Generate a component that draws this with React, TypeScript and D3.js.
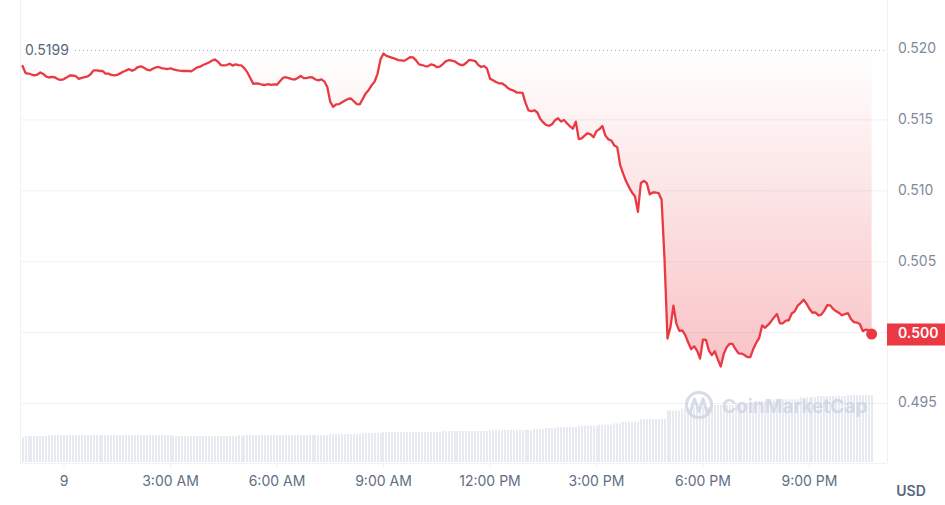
import React from "react";
import * as d3 from "d3";

const prices: number[] = [
  0.51880,0.51830,0.51827,0.51820,0.51814,0.51820,0.51835,0.51824,0.51805,0.51799,0.51803,0.51799,0.51786,0.51783,0.51788,0.51800,0.51813,0.51813,0.51808,0.51789,0.51796,0.51801,0.51807,0.51822,
  0.51849,0.51849,0.51845,0.51845,0.51827,0.51826,0.51817,0.51814,0.51817,0.51828,0.51839,0.51849,0.51858,0.51846,0.51856,0.51873,0.51878,0.51868,0.51855,0.51849,0.51861,0.51870,0.51873,0.51865,
  0.51861,0.51859,0.51864,0.51856,0.51851,0.51847,0.51845,0.51845,0.51845,0.51842,0.51856,0.51870,0.51875,0.51887,0.51896,0.51905,0.51918,0.51926,0.51911,0.51887,0.51885,0.51887,0.51896,0.51883,
  0.51892,0.51887,0.51884,0.51863,0.51835,0.51794,0.51754,0.51758,0.51755,0.51748,0.51746,0.51752,0.51747,0.51751,0.51748,0.51773,0.51796,0.51801,0.51794,0.51787,0.51785,0.51796,0.51810,0.51794,
  0.51794,0.51801,0.51799,0.51785,0.51779,0.51786,0.51772,0.51732,0.51627,0.51592,0.51609,0.51611,0.51625,0.51637,0.51648,0.51651,0.51630,0.51611,0.51610,0.51648,0.51687,0.51711,0.51744,0.51770,
  0.51827,0.51927,0.51968,0.51952,0.51945,0.51938,0.51930,0.51922,0.51919,0.51916,0.51930,0.51942,0.51941,0.51920,0.51892,0.51887,0.51880,0.51877,0.51892,0.51887,0.51872,0.51875,0.51892,0.51913,
  0.51921,0.51919,0.51913,0.51900,0.51888,0.51887,0.51903,0.51923,0.51920,0.51915,0.51888,0.51873,0.51880,0.51861,0.51791,0.51780,0.51767,0.51758,0.51758,0.51745,0.51725,0.51713,0.51707,0.51693,
  0.51692,0.51691,0.51620,0.51567,0.51561,0.51568,0.51552,0.51507,0.51482,0.51464,0.51458,0.51470,0.51498,0.51512,0.51489,0.51500,0.51477,0.51455,0.51438,0.51488,0.51365,0.51370,0.51390,0.51406,
  0.51398,0.51378,0.51421,0.51435,0.51457,0.51389,0.51363,0.51355,0.51320,0.51308,0.51181,0.51121,0.51067,0.51026,0.50988,0.50962,0.50852,0.51055,0.51070,0.51054,0.50975,0.50988,0.50988,0.50983,
  0.50937,0.50514,0.49958,0.50039,0.50190,0.50063,0.50012,0.50016,0.49982,0.49930,0.49883,0.49904,0.49873,0.49817,0.49951,0.49949,0.49873,0.49841,0.49868,0.49811,0.49761,0.49849,0.49896,0.49921,
  0.49920,0.49883,0.49853,0.49852,0.49842,0.49827,0.49827,0.49885,0.49928,0.49963,0.50051,0.50034,0.50054,0.50079,0.50107,0.50131,0.50065,0.50066,0.50085,0.50087,0.50135,0.50150,0.50190,0.50208,
  0.50232,0.50204,0.50166,0.50140,0.50142,0.50122,0.50127,0.50155,0.50193,0.50192,0.50167,0.50150,0.50139,0.50122,0.50131,0.50137,0.50096,0.50074,0.50071,0.50061,0.50010,0.50021,0.50017,0.49990,
];

const volumes: number[] = [
  245,260,260,260,260,260,260,260,260,270,270,270,270,270,270,270,270,270,270,270,270,270,270,270,
  270,270,270,270,270,270,270,270,270,270,270,270,270,270,270,270,270,270,270,270,270,270,270,270,
  270,270,270,260,260,260,260,260,260,260,260,260,260,260,260,260,260,260,260,260,260,260,260,260,
  260,270,260,270,270,270,270,270,270,270,270,270,270,270,270,270,270,270,270,270,270,270,270,270,
  270,270,270,270,270,270,270,270,280,280,280,280,280,280,280,280,280,280,280,290,290,290,290,290,
  290,290,300,300,300,300,300,300,300,300,300,300,300,300,300,300,300,300,300,300,300,300,310,310,
  310,310,310,310,310,310,310,310,310,310,310,310,310,310,320,320,320,320,320,320,320,320,320,320,
  320,320,320,320,320,327,327,327,327,340,340,340,340,350,350,350,350,350,350,350,363,363,363,363,
  363,363,363,373,373,373,373,373,387,387,387,403,403,403,403,403,403,430,430,430,430,430,430,430,
  430,430,515,515,515,515,515,537,537,537,537,550,550,550,550,550,550,570,570,570,570,570,570,570,
  570,590,590,590,590,590,590,590,610,610,610,610,610,610,627,627,627,627,627,627,627,627,627,647,
  647,647,647,647,647,660,660,660,660,660,660,660,660,660,660,670,670,670,670,670,670,670,670,670,
];

const openPrice = 0.5199;
const yTicks = [0.495, 0.5, 0.505, 0.51, 0.515, 0.52];
const startTime = new Date(2024, 0, 8, 22, 50);
const stepMinutes = 5;

const RED = "#ea3943";
const GRID = "#eff2f5";

export default function App() {
  const W = 945, H = 505;
  const left = 20, right = 887, bottom = 463;
  const times = prices.map((_, i) => new Date(startTime.getTime() + i * stepMinutes * 60000));

  const x = d3.scaleTime()
    .domain([new Date(2024, 0, 9, 0, 0), new Date(2024, 0, 9, 21, 0)])
    .range([64, 809.5]);
  const y = d3.scaleLinear().domain([0.495, 0.52]).range([403.5, 49]);
  const v = d3.scaleLinear().domain([0, 1000]).range([0, 100]);

  const xTicks = x.ticks(d3.timeHour.every(3) as any);
  const fmtDay = d3.timeFormat("%-d");
  const fmtHour = d3.timeFormat("%-I:%M %p");

  const pts = prices.map((p, i) => [x(times[i]), y(p)] as [number, number]);
  const line = d3.line<[number, number]>().x(d => d[0]).y(d => d[1])(pts) || "";
  const area = d3.area<[number, number]>().x(d => d[0]).y0(y(openPrice)).y1(d => d[1])(pts) || "";
  const last = pts[pts.length - 1];
  const lastLabel = prices[prices.length - 1].toFixed(3);
  const font = "Inter, 'Noto Sans', sans-serif";

  return (
    <svg width={W} height={H} style={{ position: "absolute", left: 0, top: 0, background: "#fff" }} fontFamily={font}>
      <defs>
        <linearGradient id="fillGrad" gradientUnits="userSpaceOnUse" x1="0" y1={y(openPrice)} x2="0" y2="365">
          <stop offset="0" stopColor={RED} stopOpacity="0" />
          <stop offset="1" stopColor={RED} stopOpacity="0.3" />
        </linearGradient>
      </defs>
      {/* grid */}
      {yTicks.filter(t => t < 0.519).map(t => (
        <line key={t} x1={left} x2={right} y1={y(t)} y2={y(t)} stroke={GRID} strokeWidth={1} />
      ))}
      <line x1={left + 0.5} x2={left + 0.5} y1={0} y2={bottom} stroke={GRID} />
      <line x1={right + 0.5} x2={right + 0.5} y1={0} y2={bottom} stroke={GRID} />
      <line x1={left} x2={right} y1={bottom + 0.5} y2={bottom + 0.5} stroke={GRID} />
      {xTicks.map((t, i) => (
        <line key={i} x1={x(t)} x2={x(t)} y1={bottom} y2={bottom + 5} stroke={GRID} />
      ))}
      {/* volume bars */}
      {volumes.map((vol, i) => (
        <rect key={i} x={Math.round(x(times[i])) - 0.5} y={bottom - 1 - v(vol)} width={1} height={v(vol)} fill="#cfd6e4" />
      ))}
      {/* watermark */}
      <g opacity={0.85}>
        <circle cx={699} cy={405} r={12.5} fill="none" stroke="#cfd6e4" strokeWidth={3} />
        <path d="M 690 413 L 694.5 399 L 699 411 L 703 399 L 707 412 L 710 409" fill="none" stroke="#cfd6e4" strokeWidth={3} strokeLinejoin="round" strokeLinecap="round" />
        <text x={722} y={413} fontSize={19} fontWeight={700} fill="#cfd6e4">CoinMarketCap</text>
      </g>
      {/* area + line */}
      <path d={area} fill="url(#fillGrad)" />
      <line x1={75} x2={right} y1={y(openPrice)} y2={y(openPrice)} stroke="#a6b0c3" strokeWidth={1} strokeDasharray="1 3" />
      <text x={25} y={y(openPrice) + 1} dominantBaseline="middle" fontSize={14} fill="#58667e">{openPrice.toFixed(4)}</text>
      <path d={line} fill="none" stroke={RED} strokeWidth={2.3} strokeLinejoin="round" strokeLinecap="round" />
      <circle cx={last[0]} cy={last[1]} r={5.5} fill={RED} />
      {/* y axis labels (the current-price tag replaces the 0.500 tick) */}
      {yTicks.filter(t => t.toFixed(3) !== lastLabel).map(t => (
        <text key={t} x={898} y={y(t)} dominantBaseline="middle" fontSize={14} fill="#808a9d">{t.toFixed(3)}</text>
      ))}
      <rect x={887} y={323.5} width={58} height={22} fill={RED} />
      <text x={898} y={334.5} dominantBaseline="middle" fontSize={14} fontWeight={600} fill="#fff">{lastLabel}</text>
      {/* x axis labels */}
      {xTicks.map((t, i) => (
        <text key={i} x={x(t)} y={482} textAnchor="middle" dominantBaseline="middle" fontSize={14} fill="#616e85">
          {t.getHours() === 0 ? fmtDay(t) : fmtHour(t)}
        </text>
      ))}
      <text x={911} y={492} textAnchor="middle" dominantBaseline="middle" fontSize={14} fontWeight={600} fill="#58667e">USD</text>
    </svg>
  );
}
